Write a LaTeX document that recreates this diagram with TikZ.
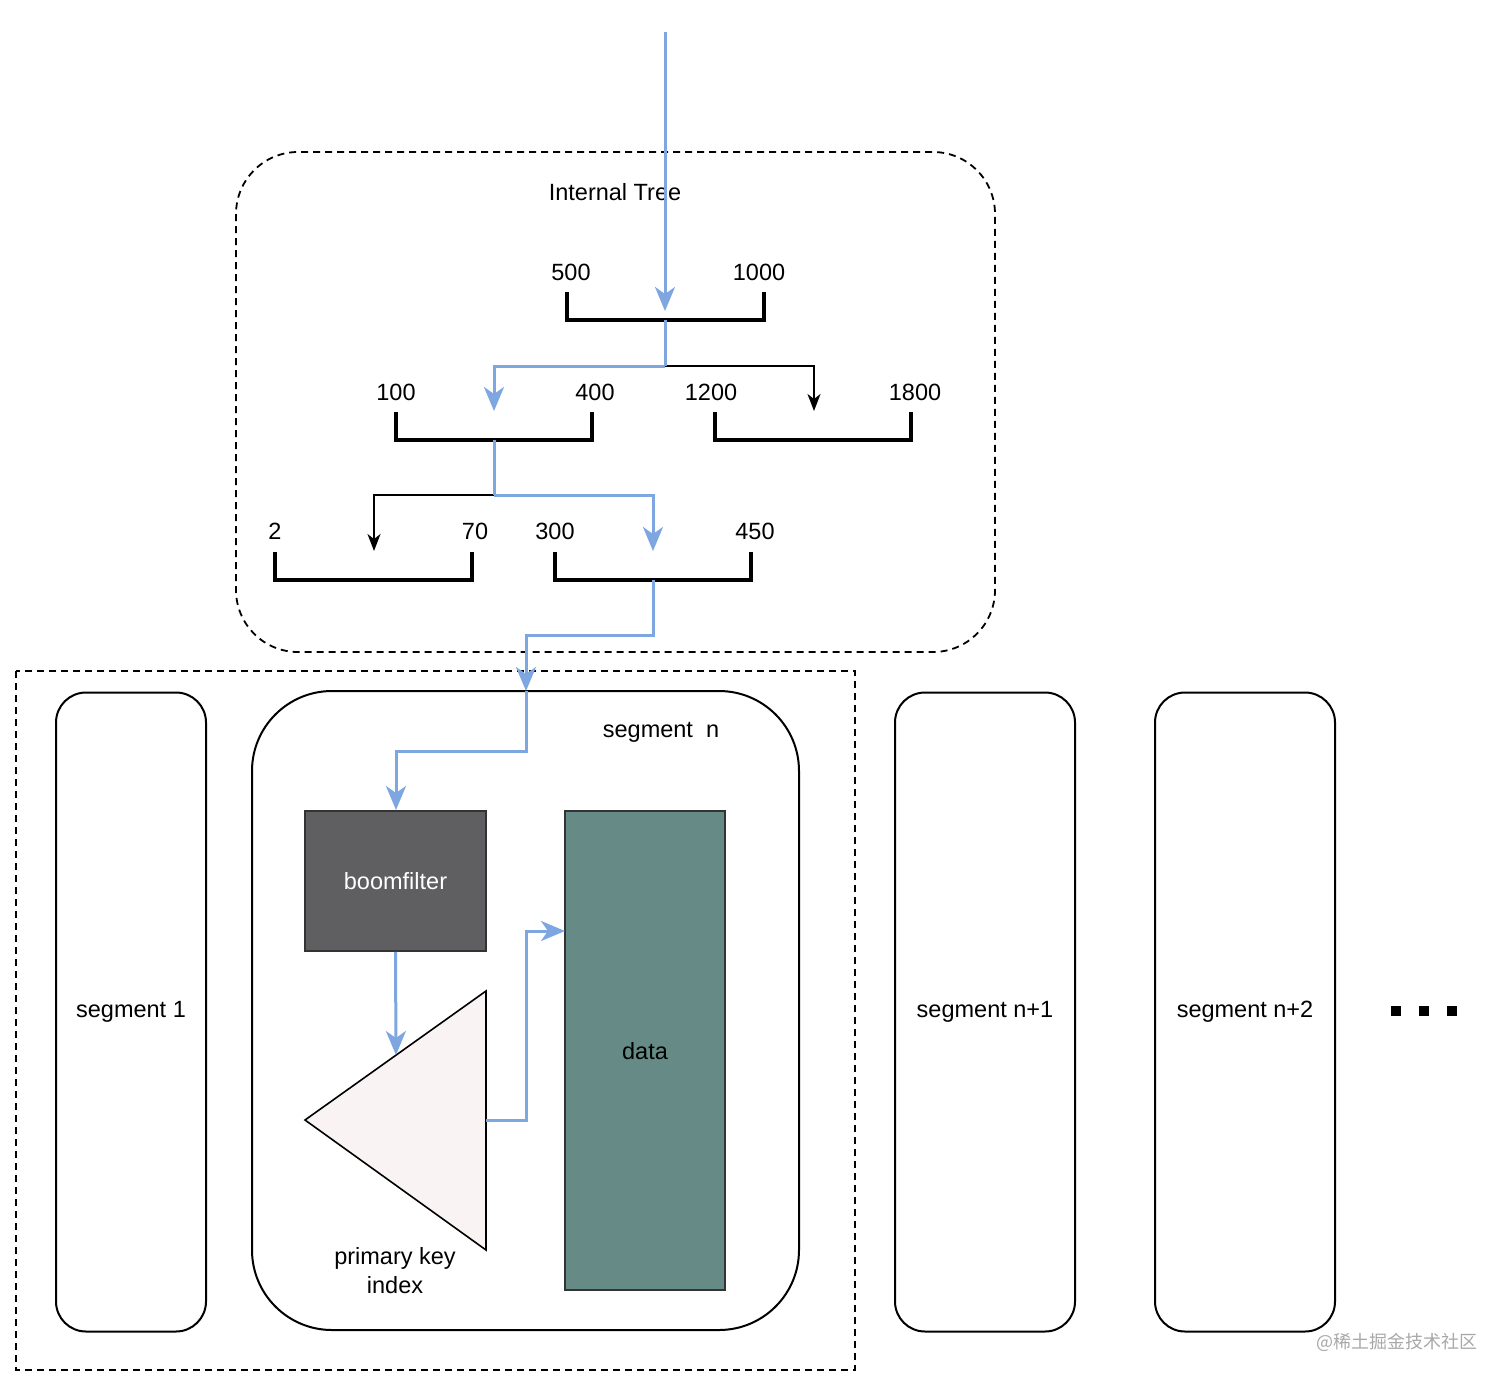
\documentclass[tikz,border=0pt]{standalone}
\usepackage{fontspec}
\setmainfont{Liberation Sans}
\newfontfamily\cjkfont{Noto Sans CJK SC}
\usetikzlibrary{arrows.meta}
\definecolor{blueline}{HTML}{7EA6E0}
\definecolor{boomfill}{HTML}{5F5E60}
\definecolor{datafill}{HTML}{668B86}
\definecolor{trifill}{HTML}{FAF3F3}
\definecolor{darkborder}{HTML}{333333}
\definecolor{wmgray}{HTML}{A8A8A8}
\tikzset{
  lbl/.style={font=\fontsize{23.5}{27}\selectfont, inner sep=0pt},
  bluearrow/.style={draw=blueline, line width=3pt, -{Stealth[length=24pt, width=20pt, inset=7pt]}},
  blueline/.style={draw=blueline, line width=3pt},
  blackarrow/.style={draw=black, line width=1.6pt, -{Stealth[length=17pt, width=13pt, inset=5pt]}},
  bracket/.style={draw=black, line width=4pt, line cap=butt},
  segbox/.style={draw=black, line width=2pt, rounded corners=30pt, inner sep=0pt},
  dashbox/.style={draw=black, line width=1.8pt, dash pattern=on 7pt off 5pt},
  dotsq/.style={fill=black, minimum size=10pt, inner sep=0pt},
}
\begin{document}
\begin{tikzpicture}[x=1pt,y=-1pt]
\useasboundingbox (0,0) rectangle (1512,1387);
% containers
\draw[dashbox, rounded corners=62pt] (236,152) rectangle (995,652);
\draw[dashbox] (16,671) rectangle (855,1370);
\node[lbl] (title) at (615,192) {Internal Tree};
% brackets
\draw[bracket] (567,292) |- (764,320) -- (764,292);
\draw[bracket] (396,412) |- (592,440) -- (592,412);
\draw[bracket] (715,412) |- (911,440) -- (911,412);
\draw[bracket] (275,552) |- (472,580) -- (472,552);
\draw[bracket] (555,552) |- (751,580) -- (751,552);
\coordinate (b1) at (665,320);
\coordinate (b2) at (494,440);
\coordinate (b5) at (653,580);
\coordinate (j1) at (665,366);
\coordinate (j2) at (494,495);
% labels
\node[lbl] (l500) at (571,272) {500};
\node[lbl] (l1000) at (759,272) {1000};
\node[lbl] (l100) at (396,392) {100};
\node[lbl] (l400) at (595,392) {400};
\node[lbl] (l1200) at (711,392) {1200};
\node[lbl] (l1800) at (915,392) {1800};
\node[lbl] (l2) at (275,531) {2};
\node[lbl] (l70) at (475,531) {70};
\node[lbl] (l300) at (555,531) {300};
\node[lbl] (l450) at (755,531) {450};
% target coordinates
\coordinate (start) at (665,32);
\coordinate (t1) at (665,311);
\coordinate (t2) at (494,411);
\coordinate (t3) at (814,411);
\coordinate (t4) at (374,551);
\coordinate (t5) at (653,551);
% segments
\node[segbox, minimum width=150pt, minimum height=639pt, lbl] (s1) at (131,1012) {segment 1};
\node[segbox, rounded corners=80pt, minimum width=547pt, minimum height=639pt] (sn) at (525.5,1010.5) {};
\node[lbl] (snlabel) at (661,732) {segment\hspace{13pt}n};
\node[segbox, minimum width=180pt, minimum height=639pt, lbl] (sn1) at (985,1012) {segment n+1};
\node[segbox, minimum width=180pt, minimum height=639pt, lbl] (sn2) at (1245,1012) {segment n+2};
\node[dotsq] (d1) at (1396,1011) {};
\node[dotsq] (d2) at (1424,1011) {};
\node[dotsq] (d3) at (1452,1011) {};
% inner blocks
\node[draw=darkborder, line width=1.6pt, fill=boomfill, minimum width=181pt, minimum height=140pt, inner sep=0pt, text=white, lbl] (boom) at (395.5,881) {boomfilter};
\node[draw=darkborder, line width=1.6pt, fill=datafill, minimum width=160pt, minimum height=479pt, inner sep=0pt] (data) at (645,1050.5) {};
\node[lbl] (datalabel) at (645,1051) {data};
\draw[draw=black, line width=1.6pt, fill=trifill, line join=miter] (486,991) -- (305,1120) -- (486,1250) -- cycle;
\coordinate (triR) at (486,1120);
\coordinate (triHit) at (396,1055);
\node[lbl, align=center] (pk) at (395,1271) {primary key\\[2pt]index};
\coordinate (segTop) at (526,691);
\coordinate (dataHit) at (565,931);
% black connectors
\draw[blackarrow] (j1) -| (t3);
\draw[blackarrow] (j2) -| (t4);
% blue connectors
\draw[bluearrow] (start) -- (t1);
\draw[blueline] (b1) -- (j1);
\draw[bluearrow] (j1) -| (t2);
\draw[blueline] (b2) -- (j2);
\draw[bluearrow] (j2) -| (t5);
\draw[bluearrow] (b5) -- (653,635) -| (segTop);
\draw[bluearrow] (segTop) -- (526,751) -| (396,810);
\draw[bluearrow] (boom.south) -- (triHit);
\draw[bluearrow] (triR) -- (526,1120) |- (dataHit);
% watermark
\node[font=\cjkfont\fontsize{18}{20}\selectfont, text=wmgray, inner sep=0pt] (wm) at (1397,1342) {@稀土掘金技术社区};
\end{tikzpicture}
\end{document}
